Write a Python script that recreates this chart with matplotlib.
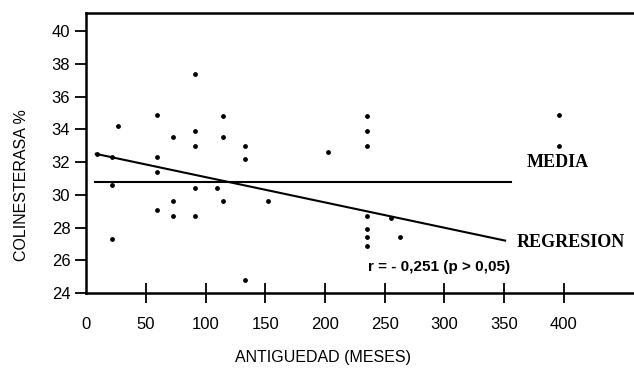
import matplotlib.pyplot as plt

# datos
antiguedad = [9, 22, 22, 22, 27, 59, 59, 59, 59, 73, 73, 73,
              91, 91, 91, 91, 91, 110, 115, 115, 115, 133, 133, 133,
              152, 203, 235, 235, 235, 235, 235, 235, 235, 255, 263, 396, 396]
colinesterasa = [32.5, 32.3, 30.6, 27.3, 34.2, 34.9, 32.3, 31.4, 29.1, 33.5, 29.6, 28.7,
                 37.4, 33.9, 33.0, 30.4, 28.7, 30.4, 34.8, 33.5, 29.6, 33.0, 32.2, 24.8,
                 29.6, 32.6, 34.8, 33.9, 33.0, 28.7, 27.9, 27.4, 26.9, 28.6, 27.4, 34.9, 33.0]

reg_x = [8, 351]
reg_y = [32.5, 27.2]
media = 30.75
media_x = [7, 356]

xticks = [0, 50, 100, 150, 200, 250, 300, 350, 400]
yticks = [24, 26, 28, 30, 32, 34, 36, 38, 40]

plt.rcParams['font.family'] = ['Liberation Sans', 'DejaVu Sans']

fig = plt.figure(figsize=(6.34, 3.73), dpi=100)
ax = fig.add_axes([0.136, 0.2145, 0.864, 0.7505])

ax.scatter(antiguedad, colinesterasa, s=6, color='black', zorder=3)
ax.plot(reg_x, reg_y, color='black', lw=1.5)
ax.plot(media_x, [media, media], color='black', lw=1.5)

ax.text(369, 32.0, 'MEDIA', family='Liberation Serif', fontweight='bold', fontsize=13,
        va='center')
ax.text(361, 27.1, 'REGRESION', family='Liberation Serif', fontweight='bold', fontsize=13,
        va='center')
ax.text(236, 25.6, 'r = - 0,251 (p > 0,05)', fontweight='bold', fontsize=11, va='center')

ax.set_xlim(0, 459)
ax.set_ylim(24.05, 41.1)
ax.set_xticks(xticks)
ax.set_yticks(yticks)
ax.tick_params(axis='x', direction='inout', length=14, width=1.3, labelsize=12, pad=10)
ax.tick_params(axis='y', direction='out', length=8, width=1.3, labelsize=12)
ax.xaxis.get_major_ticks()[0].tick1line.set_visible(False)

for s in ['left', 'bottom', 'top']:
    ax.spines[s].set_linewidth(1.8)
ax.spines['right'].set_visible(False)

ax.set_xlabel('ANTIGUEDAD (MESES)', fontsize=11.5)
ax.set_ylabel('COLINESTERASA %', fontsize=11.5)
ax.xaxis.set_label_coords(0.432, -0.205)
ax.yaxis.set_label_coords(-0.105, 0.385)

plt.savefig('out.png', dpi=100)
